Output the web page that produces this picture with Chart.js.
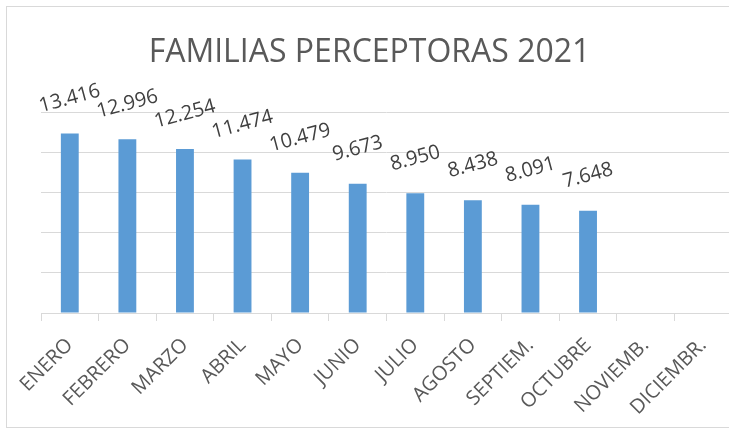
<!DOCTYPE html>
<html>
<head>
<meta charset="utf-8">
<script src="https://cdn.jsdelivr.net/npm/chart.js@4"></script>
<style>
  html, body { margin:0; padding:0; background:#fff; overflow:hidden; }
  body { width:729px; height:428px; position:relative; }
  #box { position:absolute; left:6px; top:6px; width:740px; height:420px; border:1px solid #d9d9d9; }
</style>
</head>
<body>
<div id="box"><canvas id="chart"></canvas></div>
<script>
// chart data
const MONTHS = ['ENERO','FEBRERO','MARZO','ABRIL','MAYO','JUNIO','JULIO','AGOSTO','SEPTIEM.','OCTUBRE','NOVIEMB.','DICIEMBR.'];
const FAMILIES = [13416, 12996, 12254, 11474, 10479, 9673, 8950, 8438, 8091, 7648, null, null];
const Y_MAX = 15000;
const Y_STEP = 3000;
const TITLE = 'FAMILIAS PERCEPTORAS 2021';

const FONT = '"Open Sans", sans-serif';
const fmtEs = v => String(v).replace(/\B(?=(\d{3})+(?!\d))/g, '.');

// rotated value labels above each bar
const valueLabels = {
  id: 'valueLabels',
  afterDatasetsDraw(chart){
    const ctx = chart.ctx;
    const meta = chart.getDatasetMeta(0);
    ctx.save();
    ctx.font = '20px ' + FONT;
    ctx.fillStyle = '#404040';
    ctx.textAlign = 'center';
    ctx.textBaseline = 'middle';
    meta.data.forEach((bar, i) => {
      const v = FAMILIES[i];
      if(v == null) return;
      ctx.save();
      ctx.translate(bar.x, bar.y - 35);
      ctx.rotate(-15 * Math.PI / 180);
      ctx.fillText(fmtEs(v), 0, 0);
      ctx.restore();
    });
    ctx.restore();
  }
};

// month labels at 45deg, anchored at each category tick of the x scale
const monthLabels = {
  id: 'monthLabels',
  afterDraw(chart){
    const ctx = chart.ctx, x = chart.scales.x;
    ctx.save();
    ctx.font = '20px ' + FONT;
    ctx.fillStyle = '#595959';
    ctx.textAlign = 'right';
    ctx.textBaseline = 'middle';
    MONTHS.forEach((m, i) => {
      ctx.save();
      ctx.translate(x.getPixelForTick(i), x.top + 29);
      ctx.rotate(-Math.PI / 4);
      ctx.fillText(m, 0, 0);
      ctx.restore();
    });
    ctx.restore();
  }
};

new Chart(document.getElementById('chart'), {
  type: 'bar',
  data: {
    labels: MONTHS,
    datasets: [{
      data: FAMILIES,
      backgroundColor: '#5b9bd5',
      barPercentage: 0.31,
      categoryPercentage: 1.0
    }]
  },
  options: {
    responsive: true,
    maintainAspectRatio: false,
    animation: false,
    layout: { padding: { left: 0, right: 15, top: 0, bottom: 0 } },
    plugins: {
      legend: { display: false },
      tooltip: { enabled: false },
      title: {
        display: true,
        text: TITLE,
        color: '#595959',
        font: { family: FONT, size: 32, weight: 'normal' },
        padding: { top: 27, bottom: 40 }
      }
    },
    scales: {
      x: {
        grid: { offset: true, drawOnChartArea: false, drawTicks: true, tickLength: 8, color: '#d9d9d9' },
        border: { color: '#d9d9d9' },
        ticks: { display: false },
        afterFit: s => { s.height = 114; }
      },
      y: {
        min: 0, max: Y_MAX,
        ticks: { display: false, stepSize: Y_STEP },
        grid: { color: '#d9d9d9', drawTicks: false },
        border: { display: false },
        afterFit: s => { s.width = 34; }
      }
    }
  },
  plugins: [valueLabels, monthLabels]
});
</script>
</body>
</html>
